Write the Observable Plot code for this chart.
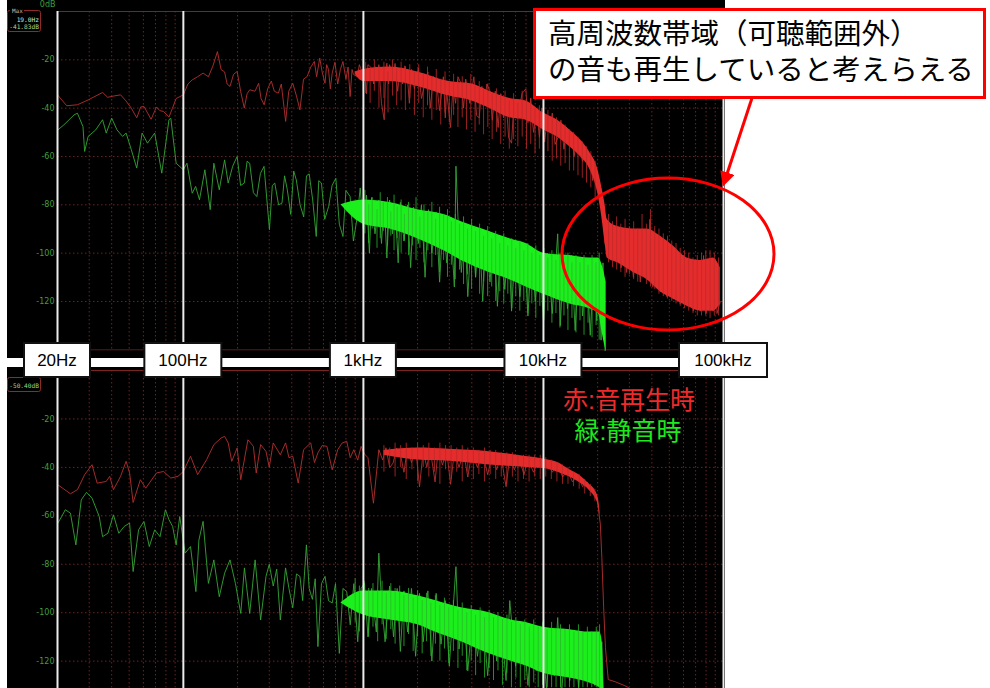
<!DOCTYPE html>
<html><head><meta charset="utf-8">
<script src="https://cdn.jsdelivr.net/npm/d3@7"></script>
<script src="https://cdn.jsdelivr.net/npm/@observablehq/plot@0.6"></script>
<style>
html,body{margin:0;padding:0;background:#fff;}
#stage{position:relative;width:990px;height:688px;overflow:hidden;background:#fff;}
#stage svg.panel{position:absolute;left:7px;}
</style></head>
<body><div id="stage"></div>
<script>
// ---------- axes / labels ----------
const dbTicks = [-20, -40, -60, -80, -100, -120];
const majorHz = [20, 100, 1000, 10000, 100000];
const minorHz = [30,40,50,60,70,80,90,200,300,400,500,600,700,800,900,2000,3000,4000,5000,6000,7000,8000,9000,20000,30000,40000,50000,60000,70000,80000,90000];
const axisLabelHz = [20, 100, 1000, 10000, 100000];
const axisLabels = ["20Hz", "100Hz", "1kHz", "10kHz", "100kHz"];
const noteLines = ["高周波数帯域（可聴範囲外）", "の音も再生していると考えらえる"];
const legendRed = "赤:音再生時";
const legendGreen = "緑:静音時";
const topMax = ["Max", "19.0Hz", "-41.83dB"];
const bottomMax = "-50.40dB";

// ---------- top panel: traces [Hz, dB], bands [Hz, hi, lo], spikes [Hz, top, bottom] ----------
const topRedTrace = [[20,-34.5],[22.5,-39],[25.8,-38.6],[29.6,-36.6],[35.6,-33.5],[38,-35.5],[40.9,-35],[44.8,-34.5],[48,-37],[51.4,-40],[55.1,-44],[58,-39.5],[60.4,-39.3],[66.2,-44.6],[70.9,-39.5],[74,-41],[77.7,-41.4],[83.2,-43.7],[87,-40],[91.2,-36],[100,-34.5],[106,-30],[112,-28.3],[120,-27],[128.7,-25.5],[137.8,-27],[146,-22.5],[154.6,-16.6],[162,-24],[169.5,-25],[175,-30],[181.6,-31],[190,-26],[199,-24.8],[208,-33],[218,-40],[226,-34],[234,-32.4],[250,-33],[262,-29.7],[270,-36],[281,-38.6],[294,-32],[308,-28.8],[320,-33],[337,-33.8],[350,-30],[370,-45.5],[385,-33],[405,-29.7],[425,-35],[444,-40.7],[465,-28],[487,-26.9],[510,-23],[534,-20.7],[550,-27],[572,-19.3],[590,-25],[612,-29.7],[625,-22],[640,-24],[655,-32],[671,-25.5],[695,-21],[720,-30],[745,-24],[770,-20.7],[800,-28],[822,-23],[844,-35.2],[865,-24],[880,-26],[925,-26.9],[950,-22],[970,-24],[1014,-25.5],[1040,-34],[1060,-22],[1110,-23.4],[1140,-30],[1160,-22.8],[1190,-28],[1218,-22],[1260,-38],[1305,-44.8],[1330,-24],[1350,-21.4],[1380,-30],[1398,-22],[1450,-28],[1500,-21.5],[1550,-33],[1604,-23.4],[1650,-30],[1700,-22.5],[1758,-27.6],[1800,-38],[1850,-24],[1920,-32],[2018,-23.4],[2100,-36],[2212,-29],[2280,-25],[2350,-40],[2450,-27],[2536,-28],[2650,-41],[2781,-27],[2850,-44],[2900,-33],[3048,-48],[3150,-30],[3250,-38],[3350,-27],[3499,-30],[3600,-40],[3700,-28],[3900,-38],[4108,-27],[4250,-43],[4398,-44],[4550,-31],[4700,-38],[4850,-30],[5048,-33],[5200,-45],[5400,-33],[5600,-48],[5794,-34],[6000,-44],[6200,-36],[6400,-52],[6650,-54.5],[6850,-38],[7200,-44],[7600,-34],[7985,-32],[8200,-46],[8500,-36],[8800,-50],[9165,-41],[9500,-52],[9800,-40],[10150,-54],[10520,-43],[10900,-48],[11200,-42],[11600,-55],[12075,-52],[12500,-45],[13000,-57],[13400,-48],[13850,-55],[14300,-50],[14800,-60],[15300,-52],[15900,-56],[16500,-62],[17000,-58],[17600,-62],[18250,-61],[18800,-70],[19300,-64],[20000,-69],[20500,-79],[21000,-74],[21500,-85],[22000,-96],[22500,-88],[23200,-100],[24000,-90],[25000,-102],[26000,-92],[27000,-106],[28000,-94],[29000,-108],[30000,-93],[31600,-110],[33000,-91],[34500,-112],[36000,-90],[37700,-111],[39000,-86],[40500,-114],[42000,-92],[44600,-116],[46500,-95],[48500,-118],[50500,-98],[52600,-119],[55000,-99],[57500,-121],[60000,-101],[62900,-122],[65500,-103],[68000,-124],[71000,-104],[74500,-124],[77500,-101],[80000,-125],[84000,-103],[87600,-124],[90000,-106],[92000,-125],[96000,-120]];
const topRedBand = [[900,-25,-26],[1000,-24,-29],[1400,-23,-29],[2000,-25,-31],[3000,-29,-35],[4000,-30,-37],[5000,-33,-40],[6500,-36,-44],[8000,-37,-45],[10000,-42,-49],[12000,-45,-52],[14000,-49,-56],[16000,-53,-60],[18000,-58,-65],[20000,-65,-75],[21000,-72,-84],[22000,-80,-96],[22600,-86,-102],[25800,-89,-104],[31600,-90,-108],[37700,-90,-111],[44600,-93,-116],[52600,-97,-119],[62900,-102,-122],[74500,-103,-124],[87600,-102,-124],[96000,-106,-121]];
const topRedSpikes = [[1030,-21,-34],[1090,-24,-38],[1150,-20,-33],[1220,-23,-40],[1300,-21,-36],[1370,-25,-42],[1450,-20,-35],[1530,-24,-39],[1620,-21,-37],[1710,-23,-41],[1810,-22,-36],[1920,-25,-43],[2030,-22,-38],[2150,-26,-44],[2270,-23,-39],[2400,-27,-45],[2540,-24,-41],[2690,-28,-47],[2840,-25,-42],[3000,-29,-46],[3170,-26,-43],[3350,-28,-48],[3540,-27,-44],[3740,-30,-49],[3950,-26,-45],[4170,-31,-50],[4400,-29,-47],[4650,-32,-51],[4910,-30,-48],[5190,-34,-53],[5480,-32,-50],[5790,-35,-55],[6120,-33,-52],[6460,-37,-57],[6830,-34,-53],[7210,-38,-56],[7620,-33,-52],[8050,-37,-57],[8500,-36,-55],[8980,-40,-59],[9490,-39,-57],[10020,-42,-60],[10590,-41,-58],[11190,-44,-62],[11820,-44,-61],[12480,-46,-64],[13190,-47,-63],[13930,-49,-66],[14720,-50,-66],[15550,-52,-68],[16430,-54,-69],[17350,-56,-71],[18330,-58,-73],[19370,-62,-77],[23000,-84,-104],[24200,-87,-106],[25500,-85,-107],[26900,-88,-108],[28400,-86,-110],[30000,-89,-109],[31700,-87,-111],[33400,-90,-112],[35300,-84,-110],[37300,-88,-113],[39300,-82,-114],[41500,-89,-115],[43800,-90,-117],[46300,-92,-118],[48900,-93,-119],[51600,-95,-120],[54500,-96,-121],[57500,-98,-122],[60700,-99,-123],[64100,-100,-124],[67700,-102,-125],[71500,-101,-126],[75500,-100,-126],[79700,-99,-126],[84200,-99,-127],[88900,-100,-126],[93900,-102,-126]];
const topGreenTrace = [[20.1,-49],[21.7,-46.9],[24.7,-42.8],[25.8,-42.1],[27.7,-47.6],[28.3,-57.9],[29.6,-51.7],[32.6,-49],[35.6,-44.8],[37.3,-50.3],[40,-44.1],[42.8,-49],[46,-51.7],[48.1,-50.3],[51.4,-57.2],[55.1,-64.8],[59,-50.3],[63.2,-54.5],[69.3,-50.3],[75.9,-66.9],[83.2,-44.8],[85.2,-44.2],[91.2,-62.8],[100,-65.5],[104.7,-62.8],[112,-75.2],[117,-72.4],[122.9,-77.9],[131.7,-65.5],[141,-82],[147.7,-62.8],[158.3,-73.8],[169.5,-61.4],[177.4,-71],[188,-64],[199,-60],[208,-72],[218,-71],[226,-62],[233.6,-62.8],[245,-75],[256,-76.6],[268,-67],[280.6,-64.1],[300.7,-90.3],[312,-72],[322,-71],[338,-80],[353,-79.3],[365,-68],[378,-73.8],[395,-84],[410,-66],[424,-69.7],[445,-80],[466,-85],[483,-68],[500,-67.2],[523,-78],[547,-93.1],[565,-70],[585,-71],[610,-86],[641,-80.7],[670,-72],[703,-69],[735,-88],[770,-93.1],[800,-74],[844,-76.6],[880,-95],[925,-84.8],[960,-73],[1000,-90],[1040,-76],[1080,-100],[1110,-77],[1160,-92],[1218,-78],[1260,-96],[1305,-79],[1350,-102],[1398,-78],[1450,-92],[1500,-80],[1560,-104],[1604,-79],[1680,-95],[1758,-80],[1830,-106],[1900,-81],[2018,-96],[2100,-80],[2200,-110],[2300,-82],[2400,-100],[2536,-83],[2650,-112],[2781,-84],[2900,-104],[3048,-86],[3200,-114],[3266,-64],[3350,-85],[3499,-108],[3650,-88],[3800,-118],[4000,-89],[4200,-110],[4398,-90],[4600,-120],[4800,-91],[5048,-112],[5300,-92],[5550,-122],[5794,-94],[6100,-115],[6400,-95],[6650,-124],[7000,-96],[7400,-118],[7800,-97],[8200,-126],[8600,-99],[9000,-120],[9500,-100],[10000,-128],[10500,-100],[11200,-125],[12000,-92],[12400,-130],[13000,-101],[13600,-123],[14300,-101],[15000,-132],[15800,-102],[16500,-126],[17300,-102],[18200,-134],[19000,-103],[19800,-128],[20300,-103],[20900,-136],[21400,-104],[22000,-141]];
const topGreenBand = [[750,-80,-80],[1000,-78,-88],[1400,-79,-90],[2000,-82,-94],[2800,-84,-99],[3500,-87,-103],[5000,-91,-108],[6500,-94,-111],[8000,-96,-114],[10000,-100,-117],[14000,-101,-121],[18000,-102,-123],[20200,-102,-125],[21200,-105,-133],[22300,-112,-141]];
const topGreenSpikes = [[1020,-74,-92],[1070,-80,-96],[1120,-77,-90],[1190,-82,-98],[1240,-75,-94],[1290,-79,-91],[1360,-77,-97],[1420,-83,-93],[1480,-76,-99],[1540,-81,-94],[1620,-78,-100],[1690,-84,-95],[1780,-79,-101],[1870,-82,-97],[1960,-77,-103],[2060,-85,-98],[2170,-80,-104],[2280,-83,-99],[2400,-79,-106],[2520,-86,-101],[2650,-81,-108],[2790,-84,-103],[2930,-82,-110],[3080,-87,-105],[3240,-84,-111],[3420,-88,-107],[3600,-85,-113],[3790,-90,-109],[3990,-86,-115],[4200,-91,-110],[4420,-88,-117],[4650,-93,-112],[4900,-89,-118],[5160,-94,-114],[5430,-91,-120],[5720,-96,-116],[6020,-92,-121],[6340,-97,-117],[6670,-94,-123],[7020,-98,-118],[7390,-95,-124],[7780,-99,-120],[8190,-96,-125],[8620,-100,-121],[9070,-97,-127],[9550,-101,-122],[10050,-98,-128],[10580,-102,-124],[11140,-99,-129],[11730,-103,-125],[12350,-100,-131],[13000,-104,-126],[13680,-100,-132],[14400,-104,-127],[15160,-101,-133],[15960,-104,-128],[16800,-101,-134],[17690,-105,-129],[18620,-101,-135],[19600,-104,-130],[20400,-100,-136]];

// ---------- bottom panel ----------
const botRedTrace = [[20.1,-47.2],[23.6,-50.9],[25.8,-49.2],[28.3,-43],[31.1,-38.9],[33.2,-46.5],[37.3,-45.8],[39,-43.7],[40.9,-49.2],[44.8,-43.7],[48.1,-37.5],[50.3,-42.3],[52.6,-54.5],[57.7,-45.1],[61.8,-48.6],[70.9,-42.3],[77.7,-41.7],[85.2,-44.4],[93.4,-43.7],[100,-41.7],[109.6,-35.4],[120.1,-43],[134.7,-36.8],[147.7,-30.6],[161.8,-27.9],[169.5,-27.2],[177.4,-29.9],[185.7,-37.5],[199,-32],[208.4,-45.1],[228.3,-28.6],[244.8,-31.3],[254,-42.3],[268.6,-30.6],[287.8,-33.4],[300,-40],[315.6,-29.9],[345.6,-34.8],[369.6,-29.9],[386,-36],[405.2,-35.4],[434.4,-46.5],[465.5,-32.7],[510,-29.9],[535,-38],[559,-34],[590,-31],[627,-31.3],[671,-41],[720,-32.7],[760,-30],[808,-29.2],[845,-36],[885,-32.7],[930,-37],[971,-31.3],[1014,-34.5],[1060,-36],[1137,-54.8],[1218,-32.7],[1280,-37],[1334,-31.9],[1400,-40],[1462,-38.2],[1530,-32],[1604,-34.5],[1680,-42],[1758,-32],[1850,-38],[1950,-32],[2050,-48],[2150,-33],[2250,-40],[2350,-32.5],[2500,-46],[2600,-33],[2750,-39],[2900,-33],[3050,-47],[3200,-33.5],[3400,-40],[3600,-33.5],[3800,-44],[4000,-34],[4300,-40],[4600,-34],[4900,-43],[5200,-34.5],[5500,-41],[5800,-35],[6200,-48],[6500,-35.5],[6900,-41],[7300,-36],[7800,-43],[8200,-36.5],[8800,-42],[9400,-37],[10000,-40],[10500,-37],[11200,-42],[12000,-39],[12800,-44],[13500,-41],[14500,-46],[15500,-43],[16500,-48],[17500,-46],[18500,-50],[19300,-50],[19800,-52.4],[20700,-63.4],[21100,-77.2],[21600,-98],[22100,-114.5],[22900,-127.6],[25000,-128.5],[28000,-130],[29800,-131],[31000,-134],[33000,-140]];
const botRedBand = [[1300,-33,-35],[2000,-32,-37],[3000,-32.5,-37.5],[5000,-33.5,-39],[8000,-35.5,-40],[10000,-36.5,-40.5],[12000,-38,-42],[14000,-41,-44],[16000,-43.5,-46.5],[18000,-47,-49.5],[19500,-50,-53],[20200,-53,-56],[20600,-58,-60]];
const botRedSpikes = [[1300,-31,-42],[1400,-32,-39],[1500,-30,-44],[1610,-31,-40],[1730,-30,-45],[1860,-32,-41],[2000,-30,-46],[2150,-31,-40],[2310,-30,-44],[2480,-32,-42],[2660,-30,-47],[2860,-31,-41],[3070,-31,-45],[3300,-32,-42],[3540,-31,-46],[3800,-32,-42],[4080,-32,-45],[4380,-33,-43],[4710,-32,-46],[5060,-33,-43],[5430,-33,-45],[5830,-34,-44],[6260,-34,-47],[6720,-34,-44],[7220,-35,-46],[7750,-35,-45],[8320,-35,-46],[8940,-35,-44],[9600,-35,-45],[10300,-36,-44],[11060,-37,-45],[11880,-38,-46],[12750,-39,-47],[13690,-40,-47],[14700,-42,-48],[15790,-43,-49],[16950,-45,-51],[18200,-47,-52],[19300,-49,-54]];
const botGreenTrace = [[20.1,-63],[21.1,-60.3],[22.1,-57.5],[23.6,-58.9],[25.3,-72],[27.1,-53.4],[29,-50.3],[31.1,-52.7],[34.1,-60.3],[35.6,-68.6],[38.1,-67.2],[40.9,-59.6],[43.8,-67.2],[46.9,-64.4],[50.3,-63],[52.6,-83],[56.4,-65.8],[60.4,-62.3],[64.7,-72.7],[69.3,-65.8],[74.2,-68.6],[79.5,-57.5],[83.2,-61.6],[87.2,-64.4],[91.2,-72],[95.5,-60.3],[102.3,-75.4],[109.6,-72.7],[117.4,-91.3],[122,-70],[128.7,-62.3],[137.8,-87.9],[147.7,-78.2],[158.3,-93.4],[169.5,-83.7],[181.6,-78.2],[194.6,-87.9],[208.4,-100.3],[218.4,-81.5],[233.6,-100.3],[250.4,-78.2],[268.6,-103],[287.8,-85],[300,-80],[315.6,-89],[330,-82],[345.6,-103],[369.6,-81.5],[386,-90],[405.2,-98],[425,-84],[444,-85],[460,-95],[482.5,-72],[500,-90],[521,-94.5],[540,-86],[559,-114],[585,-88],[612.4,-85],[640,-95],[671,-96],[700,-88],[735,-116.8],[770,-90],[808,-91.3],[845,-105],[885,-88],[930,-112],[971,-90],[1014,-87.9],[1060,-110],[1110,-90],[1180,-108],[1218,-75.4],[1260,-95],[1320,-112],[1398,-89],[1470,-110],[1540,-90],[1604,-116],[1680,-91],[1760,-108],[1850,-90],[1950,-118],[2050,-92],[2150,-112],[2280,-91],[2400,-120],[2536,-92],[2700,-113],[2850,-95],[3000,-122],[3266,-81],[3400,-115],[3600,-99],[3800,-124],[4050,-100],[4300,-118],[4600,-101],[4900,-126],[5200,-102],[5500,-120],[5800,-103],[6200,-128],[6500,-95],[7000,-122],[7700,-105],[8200,-130],[8700,-106],[9200,-124],[9800,-107],[10400,-132],[11000,-108],[11500,-126],[12000,-102],[12600,-134],[13300,-109],[14000,-128],[14800,-110],[15700,-131],[16500,-110],[17400,-126],[18300,-111],[19200,-130],[20000,-111],[20600,-125],[21100,-112],[21600,-140]];
const botGreenBand = [[750,-96,-96],[1000,-91,-101],[1400,-91,-103],[2000,-93,-105],[2500,-95,-108],[3500,-98,-112],[5000,-100,-117],[6600,-103,-120],[8000,-104,-122],[10000,-106,-125],[14000,-107,-127],[18000,-108,-129],[20500,-108,-131],[21200,-112,-134],[21700,-135,-140]];
const botGreenSpikes = [[900,-86,-104],[950,-89,-108],[1010,-87,-103],[1070,-90,-110],[1130,-88,-106],[1200,-91,-112],[1270,-87,-105],[1340,-92,-111],[1420,-88,-107],[1500,-90,-113],[1590,-89,-108],[1680,-93,-114],[1780,-90,-109],[1890,-94,-116],[2000,-91,-110],[2120,-95,-117],[2240,-92,-112],[2370,-96,-118],[2510,-93,-113],[2660,-97,-120],[2820,-94,-115],[2980,-98,-121],[3160,-95,-116],[3350,-99,-123],[3540,-96,-118],[3750,-100,-124],[3970,-97,-120],[4200,-101,-126],[4450,-98,-121],[4710,-102,-127],[4990,-99,-123],[5280,-102,-128],[5590,-100,-124],[5920,-103,-130],[6270,-101,-125],[6640,-104,-131],[7030,-102,-127],[7440,-105,-131],[7880,-103,-128],[8340,-106,-131],[8830,-103,-129],[9350,-106,-131],[9900,-104,-130],[10480,-107,-131],[11100,-104,-131],[11750,-107,-131],[12440,-105,-131],[13170,-107,-131],[13950,-105,-131],[14770,-108,-131],[15640,-105,-131],[16560,-108,-131],[17530,-106,-131],[18560,-108,-131],[19650,-106,-131],[20500,-105,-131]];

// ---------- colours ----------
const RED_LINE = "#b43030", RED_FILL = "#e42c2c", RED_SPIKE = "#c02a2a";
const GREEN_LINE = "#36a636", GREEN_FILL = "#1cf01c", GREEN_SPIKE = "#2ab82a";
const GRID = "#6e2222";

const toTrace = a => a.map(([f, db]) => ({f, db}));
const toBand = a => a.map(([f, hi, lo]) => ({f, hi, lo}));

function panel({height, marginTop, yMin, red, redBand, redSpikes, green, greenBand, greenSpikes, zeroLabel, bottomRule}) {
  return Plot.plot({
    width: 718, height,
    marginLeft: 50, marginRight: 2, marginTop, marginBottom: 0,
    style: {background: "#000", fontFamily: "DejaVu Sans, sans-serif"},
    x: {type: "log", domain: [20, 100000], axis: null},
    y: {domain: [yMin, 0], axis: null},
    marks: [
      Plot.ruleX(minorHz, {stroke: GRID, strokeDasharray: "1.5,2.5"}),
      Plot.ruleY(dbTicks, {stroke: GRID, strokeDasharray: "1.5,2.5"}),
      Plot.ruleY([0], {stroke: "#7a2424", strokeWidth: 1.2}),
      bottomRule ? Plot.ruleY([-140], {stroke: "#5a1c1c"}) : null,
      Plot.line(toTrace(green), {x: "f", y: "db", stroke: GREEN_LINE, strokeWidth: 0.9, clip: true}),
      Plot.areaY(toBand(greenBand), {x: "f", y1: "lo", y2: "hi", fill: GREEN_FILL, curve: "monotone-x", clip: true}),
      Plot.ruleX(toBand(greenSpikes), {x: "f", y1: "lo", y2: "hi", stroke: GREEN_SPIKE, strokeWidth: 0.8, clip: true}),
      Plot.line(toTrace(red), {x: "f", y: "db", stroke: RED_LINE, strokeWidth: 0.9, clip: true}),
      Plot.areaY(toBand(redBand), {x: "f", y1: "lo", y2: "hi", fill: RED_FILL, curve: "monotone-x", clip: true}),
      Plot.ruleX(toBand(redSpikes), {x: "f", y1: "lo", y2: "hi", stroke: RED_SPIKE, strokeWidth: 0.8, clip: true}),
      Plot.ruleX(majorHz, {stroke: "#ececec", strokeWidth: 2}),
      Plot.axisY(dbTicks, {anchor: "left", tickSize: 0, tickPadding: 3, fontSize: 8, color: "#3f9f3f", tickFormat: d => String(d), label: null}),
      zeroLabel ? Plot.text([0], {y: d => d, frameAnchor: "left", text: () => zeroLabel, textAnchor: "end", dx: -2, dy: -7, fill: "#3f9f3f", fontSize: 8}) : null
    ]
  });
}

const stage = document.getElementById("stage");
const topPlot = panel({height: 351, marginTop: 11, yMin: -140.7, red: topRedTrace, redBand: topRedBand, redSpikes: topRedSpikes, green: topGreenTrace, greenBand: topGreenBand, greenSpikes: topGreenSpikes, zeroLabel: "0dB", bottomRule: true});
topPlot.classList.add("panel"); topPlot.style.top = "0px";
stage.appendChild(topPlot);
const botPlot = panel({height: 337, marginTop: 19, yMin: -131.3, red: botRedTrace, redBand: botRedBand, redSpikes: botRedSpikes, green: botGreenTrace, greenBand: botGreenBand, greenSpikes: botGreenSpikes, zeroLabel: null, bottomRule: false});
botPlot.classList.add("panel"); botPlot.style.top = "351px";
stage.appendChild(botPlot);

// ---------- overlay annotations ----------
const xs = topPlot.scale("x");
const ov = d3.select(stage).append("svg")
  .attr("width", 990).attr("height", 688)
  .style("position", "absolute").style("left", "0px").style("top", "0px");

// Max readouts
const mb = ov.append("g").style("font-family", "DejaVu Sans Mono, monospace");
mb.append("rect").attr("x", 7.5).attr("y", 10.5).attr("width", 33).attr("height", 21).attr("rx", 2).attr("fill", "none").attr("stroke", "#8e2a2a");
mb.append("rect").attr("x", 10).attr("y", 6).attr("width", 14).attr("height", 8).attr("fill", "#000");
mb.append("text").attr("x", 12).attr("y", 12.5).attr("font-size", 6).attr("fill", "#bbbbbb").text(topMax[0]);
mb.append("text").attr("x", 39).attr("y", 21.5).attr("text-anchor", "end").attr("font-size", 6.2).attr("fill", "#d0e4c8").text(topMax[1]);
mb.append("text").attr("x", 39).attr("y", 28.5).attr("text-anchor", "end").attr("font-size", 6.2).attr("fill", "#a6dc96").text(topMax[2]);
mb.append("rect").attr("x", 7.5).attr("y", 377.5).attr("width", 33).attr("height", 14).attr("rx", 2).attr("fill", "none").attr("stroke", "#8e2a2a");
mb.append("text").attr("x", 39).attr("y", 387.5).attr("text-anchor", "end").attr("font-size", 6.2).attr("fill", "#8fd88f").text(bottomMax);

// frequency label bar
const boxes = axisLabels.map((t, i) => {
  const w = 11 * t.length + 22;
  const cx = xs.apply(axisLabelHz[i]) + 7;
  return {t, w, x: cx - w / 2};
});
ov.append("rect").attr("x", 0).attr("y", 358).attr("width", boxes[boxes.length - 1].x).attr("height", 9).attr("fill", "#fff");
const bg = ov.append("g");
bg.selectAll("rect").data(boxes).join("rect")
  .attr("x", d => d.x).attr("y", 343).attr("width", d => d.w).attr("height", 34)
  .attr("fill", "#fff").attr("stroke", "#111").attr("stroke-width", 2);
bg.selectAll("text").data(boxes).join("text")
  .attr("x", d => d.x + d.w / 2).attr("y", 366).attr("text-anchor", "middle")
  .attr("font-family", "Liberation Sans, Arial, sans-serif").attr("font-size", 17).attr("fill", "#000")
  .text(d => d.t);

// ellipse + arrow
ov.append("ellipse").attr("cx", 668).attr("cy", 254).attr("rx", 106).attr("ry", 76)
  .attr("fill", "none").attr("stroke", "#ff0000").attr("stroke-width", 3);
ov.append("defs").append("marker").attr("id", "ah").attr("viewBox", "0 0 10 10")
  .attr("refX", 1).attr("refY", 5).attr("markerWidth", 5).attr("markerHeight", 5).attr("orient", "auto")
  .append("path").attr("d", "M0,0 L10,5 L0,10 z").attr("fill", "#ff0000");
ov.append("line").attr("x1", 752).attr("y1", 98).attr("x2", 727).attr("y2", 174)
  .attr("stroke", "#ff0000").attr("stroke-width", 3).attr("marker-end", "url(#ah)");

// note box
const JP = "Liberation Sans, Noto Sans CJK JP, sans-serif";
ov.append("rect").attr("x", 534.5).attr("y", 9.5).attr("width", 450).attr("height", 88)
  .attr("fill", "#fff").attr("stroke", "#ff0000").attr("stroke-width", 3);
ov.selectAll("text.note").data(noteLines).join("text").attr("class", "note")
  .attr("x", 548).attr("y", (d, i) => 44 + i * 36)
  .attr("font-family", JP).attr("font-size", 28.5).attr("fill", "#000")
  .text(d => d);

// legend
ov.append("text").attr("x", 629).attr("y", 409).attr("text-anchor", "middle")
  .attr("font-family", JP).attr("font-size", 25).attr("fill", "#f02a2a").text(legendRed);
ov.append("text").attr("x", 628).attr("y", 440).attr("text-anchor", "middle")
  .attr("font-family", JP).attr("font-size", 25).attr("fill", "#1ee81e").text(legendGreen);
</script>
</body></html>
